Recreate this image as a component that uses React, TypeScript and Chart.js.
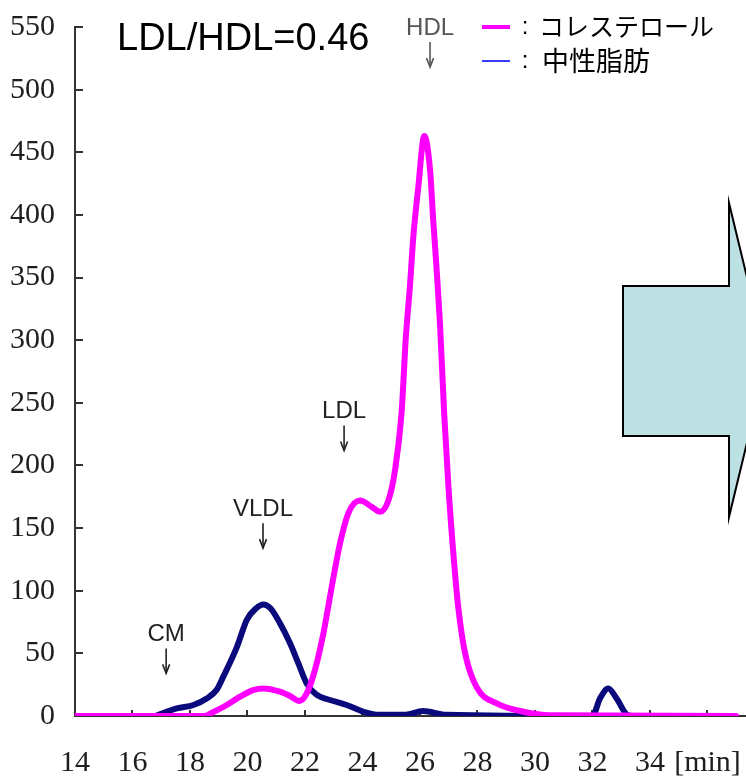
import React, { useEffect, useRef } from 'react';
import { Chart, registerables } from 'chart.js';

Chart.register(...registerables);

// ---- data ----
const cholTime = [14, 18.5, 18.8, 19.28, 19.74, 20.2, 20.55, 21.13, 21.48, 21.8, 22.06, 22.35, 22.64, 22.93, 23.22, 23.51, 23.91, 24.32, 24.61, 24.9, 25.13, 25.36, 25.51, 25.65, 25.77, 25.94, 26.15, 26.35, 26.46, 26.58, 26.7, 26.84, 26.99, 27.16, 27.33, 27.57, 27.97, 28.67, 29.6, 30.5, 37];
const cholValue = [0, 0, 3, 8.8, 15.4, 20.7, 22, 19.4, 16, 12, 18, 37, 66, 103, 138, 162, 172, 167, 163, 172, 196, 242, 303, 343, 383, 422, 463, 436, 396, 356, 311, 242, 183, 130, 87, 50, 23, 10, 3.4, 0.5, 0];

const tgTime = [16.8, 17.54, 18.12, 18.58, 18.93, 19.15, 19.63, 19.98, 20.3, 20.55, 20.8, 21.13, 21.48, 21.77, 22.06, 22.4, 22.87, 23.45, 24.03, 24.5, 25.5, 26.1, 26.9, 32.0, 32.26, 32.55, 32.84, 33.2, 33.4, 35.15];
const tgValue = [0, 6, 8.8, 14, 21, 31, 55, 77, 86, 89, 86, 74, 58, 42, 26, 17, 12.8, 8.8, 3.4, 1, 1, 4, 1, 0, 14, 22, 14, 1, 0, 0];

const xTickValues = [14, 16, 18, 20, 22, 24, 26, 28, 30, 32, 34, 36];
const xTickLabels = ['14', '16', '18', '20', '22', '24', '26', '28', '30', '32', '34', '[min]'];
const yTickValues = [0, 50, 100, 150, 200, 250, 300, 350, 400, 450, 500, 550];

const seriesNames = ['コレステロール', '中性脂肪'];
const ratioText = 'LDL/HDL=0.46';

const peakNames = ['CM', 'VLDL', 'LDL', 'HDL'];
const peakTimes = [17.17, 20.54, 23.36, 26.35];
const peakArrowTips = [34, 134, 212, 518];

const PINK = '#ff00ff';
const NAVY = '#0a0a7c';

function drawDownArrow(ctx: CanvasRenderingContext2D, x: number, tip: number, color: string) {
  ctx.save();
  ctx.strokeStyle = color;
  ctx.lineWidth = 1.6;
  ctx.beginPath();
  ctx.moveTo(x, tip - 25);
  ctx.lineTo(x, tip);
  ctx.stroke();
  ctx.beginPath();
  ctx.moveTo(x - 3.5, tip - 9);
  ctx.lineTo(x, tip);
  ctx.lineTo(x + 3.5, tip - 9);
  ctx.stroke();
  ctx.restore();
}

const annotationPlugin = {
  id: 'annot',
  beforeDatasetsDraw(chart: any) {
    const { ctx, chartArea, scales } = chart;
    const x = scales.x;
    const y = scales.y;
    ctx.save();
    ctx.strokeStyle = '#333';
    ctx.lineWidth = 2;
    yTickValues.forEach((v) => {
      const py = Math.round(y.getPixelForValue(v));
      ctx.beginPath();
      ctx.moveTo(chartArea.left, py);
      ctx.lineTo(chartArea.left + 8, py);
      ctx.stroke();
    });
    xTickValues.forEach((v) => {
      const px = Math.round(x.getPixelForValue(v));
      ctx.beginPath();
      ctx.moveTo(px, chartArea.bottom);
      ctx.lineTo(px, chartArea.bottom - 6);
      ctx.stroke();
    });
    ctx.restore();
  },
  afterDraw(chart: any) {
    const { ctx, scales } = chart;
    const x = scales.x;
    const y = scales.y;
    ctx.save();

    // block arrow
    ctx.beginPath();
    ctx.moveTo(623, 286);
    ctx.lineTo(729, 286);
    ctx.lineTo(729, 203);
    ctx.lineTo(767, 360);
    ctx.lineTo(729, 517);
    ctx.lineTo(729, 436);
    ctx.lineTo(623, 436);
    ctx.closePath();
    ctx.fillStyle = '#bde0e3';
    ctx.fill();
    ctx.strokeStyle = '#000';
    ctx.lineWidth = 2;
    ctx.lineJoin = 'miter';
    ctx.stroke();

    // ratio text
    ctx.fillStyle = '#000';
    ctx.font = '38px "Liberation Sans", Arial, sans-serif';
    ctx.textAlign = 'left';
    ctx.textBaseline = 'alphabetic';
    ctx.fillText(ratioText, 117, 50);

    // peak labels
    peakNames.forEach((name, i) => {
      const px = x.getPixelForValue(peakTimes[i]);
      const tip = y.getPixelForValue(peakArrowTips[i]);
      const color = name === 'HDL' ? '#555' : '#222';
      ctx.fillStyle = color;
      ctx.font = '24px "Liberation Sans", Arial, sans-serif';
      ctx.textAlign = 'center';
      ctx.textBaseline = 'alphabetic';
      ctx.fillText(name, px, tip - 32);
      drawDownArrow(ctx, px, tip, color);
    });

    // legend
    ctx.lineCap = 'butt';
    ctx.strokeStyle = PINK;
    ctx.lineWidth = 4;
    ctx.beginPath();
    ctx.moveTo(482, 27);
    ctx.lineTo(510, 27);
    ctx.stroke();
    ctx.strokeStyle = '#3c3cff';
    ctx.lineWidth = 2;
    ctx.beginPath();
    ctx.moveTo(482, 61);
    ctx.lineTo(510, 61);
    ctx.stroke();

    ctx.fillStyle = '#000';
    ctx.textBaseline = 'middle';
    ctx.textAlign = 'center';
    ctx.font = '24px "Liberation Sans", sans-serif';
    ctx.fillText(':', 525, 27);
    ctx.fillText(':', 525, 61);
    ctx.textAlign = 'left';
    ctx.font = '25px "Noto Sans CJK JP", sans-serif';
    ctx.fillText(seriesNames[0], 539, 26);
    ctx.font = '27px "Noto Sans CJK JP", sans-serif';
    ctx.fillText(seriesNames[1], 542, 61);

    ctx.restore();
  },
};

export default function App() {
  const canvasRef = useRef<HTMLCanvasElement | null>(null);

  useEffect(() => {
    const canvas = canvasRef.current;
    if (!canvas) return;
    const chart = new Chart(canvas, {
      type: 'line',
      data: {
        datasets: [
          {
            label: seriesNames[0],
            data: cholTime.map((t, i) => ({ x: t, y: cholValue[i] })),
            borderColor: PINK,
            borderWidth: 6,
            pointRadius: 0,
            cubicInterpolationMode: 'monotone',
            borderCapStyle: 'round',
            borderJoinStyle: 'round',
            fill: false,
          },
          {
            label: seriesNames[1],
            data: tgTime.map((t, i) => ({ x: t, y: tgValue[i] })),
            borderColor: NAVY,
            borderWidth: 6,
            pointRadius: 0,
            cubicInterpolationMode: 'monotone',
            borderCapStyle: 'round',
            borderJoinStyle: 'round',
            fill: false,
          },
        ],
      },
      options: {
        responsive: false,
        animation: false,
        events: [],
        layout: { padding: { top: 27, left: 0, right: 0, bottom: 0 } },
        plugins: {
          legend: { display: false },
          tooltip: { enabled: false },
        },
        scales: {
          x: {
            type: 'linear',
            min: 14,
            max: 37.34,
            grid: { display: false, drawTicks: false },
            border: { display: true, color: '#333', width: 2 },
            afterBuildTicks: (axis: any) => {
              axis.ticks = xTickValues.map((v) => ({ value: v }));
            },
            afterFit: (axis: any) => {
              axis.height = 64;
              axis.paddingLeft = 0;
              axis.paddingRight = 0;
            },
            ticks: {
              autoSkip: false,
              maxRotation: 0,
              padding: 29,
              color: '#1e1e1e',
              font: { family: '"Liberation Serif", "Times New Roman", serif', size: 30 },
              callback: (value: any) => {
                const idx = xTickValues.indexOf(Number(value));
                return idx >= 0 ? xTickLabels[idx] : '';
              },
            },
          },
          y: {
            type: 'linear',
            min: 0,
            max: 550,
            grid: { display: false, drawTicks: false },
            border: { display: true, color: '#333', width: 2 },
            afterFit: (axis: any) => {
              axis.width = 75;
              axis.paddingTop = 0;
              axis.paddingBottom = 0;
            },
            ticks: {
              stepSize: 50,
              padding: 20,
              color: '#1e1e1e',
              font: { family: '"Liberation Serif", "Times New Roman", serif', size: 30 },
            },
          },
        },
      },
      plugins: [annotationPlugin],
    } as any);
    return () => chart.destroy();
  }, []);

  return (
    <div style={{ position: 'fixed', left: 0, top: 0, width: 746, height: 780, background: '#fff' }}>
      <canvas ref={canvasRef} width={746} height={780} style={{ display: 'block' }} />
    </div>
  );
}
